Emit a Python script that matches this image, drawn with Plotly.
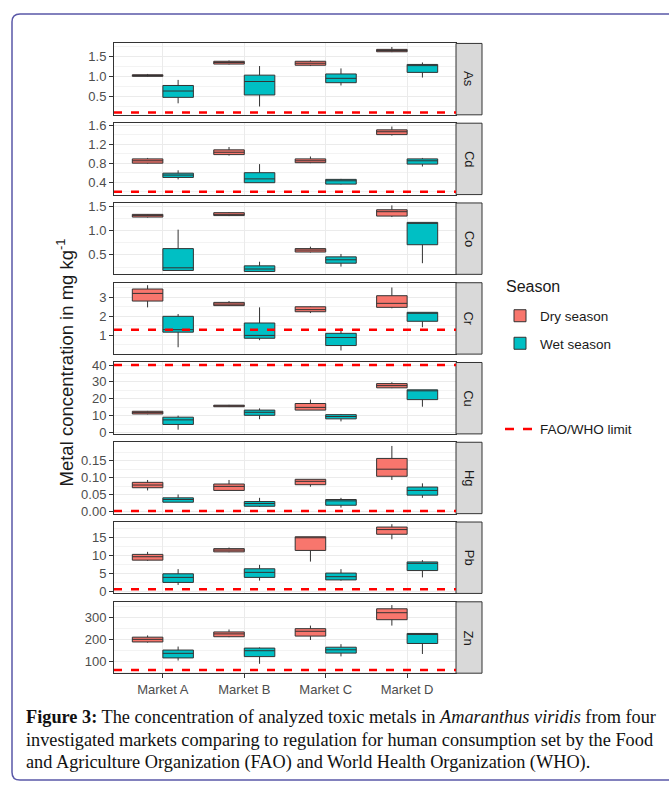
import plotly.graph_objects as go

W, H = 669, 789

markets = ["Market A", "Market B", "Market C", "Market D"]
metals = ["As", "Cd", "Co", "Cr", "Cu", "Hg", "Pb", "Zn"]

# five-number summaries per market: [lower whisker, q1, median, q3, upper whisker]
As_dry = [[1.00, 1.01, 1.03, 1.05, 1.07], [1.31, 1.32, 1.36, 1.39, 1.41], [1.27, 1.29, 1.34, 1.39, 1.41], [1.62, 1.63, 1.66, 1.69, 1.75]]
As_wet = [[0.33, 0.48, 0.64, 0.78, 0.92], [0.25, 0.54, 0.88, 1.04, 1.27], [0.78, 0.85, 0.96, 1.07, 1.21], [0.98, 1.11, 1.28, 1.31, 1.36]]
Cd_dry = [[0.79, 0.80, 0.85, 0.89, 0.91], [0.96, 0.98, 1.03, 1.08, 1.14], [0.80, 0.81, 0.85, 0.89, 0.94], [1.38, 1.40, 1.46, 1.50, 1.57]]
Cd_wet = [[0.46, 0.50, 0.55, 0.59, 0.65], [0.39, 0.39, 0.47, 0.60, 0.78], [0.35, 0.36, 0.43, 0.46, 0.47], [0.73, 0.78, 0.85, 0.89, 0.91]]
Co_dry = [[1.27, 1.28, 1.31, 1.335, 1.34], [1.30, 1.31, 1.335, 1.37, 1.38], [0.55, 0.56, 0.60, 0.63, 0.67], [1.28, 1.30, 1.39, 1.43, 1.52]]
Co_wet = [[0.18, 0.18, 0.235, 0.63, 1.02], [0.16, 0.16, 0.21, 0.275, 0.36], [0.26, 0.33, 0.40, 0.46, 0.52], [0.33, 0.71, 1.16, 1.17, 1.17]]
Cr_dry = [[2.47, 2.80, 3.20, 3.43, 3.63], [2.54, 2.56, 2.64, 2.73, 2.80], [2.17, 2.24, 2.35, 2.50, 2.52], [2.42, 2.47, 2.68, 3.08, 3.51]]
Cr_wet = [[0.38, 1.17, 1.30, 2.00, 2.12], [0.75, 0.85, 1.00, 1.65, 2.47], [0.21, 0.47, 0.89, 1.11, 1.37], [1.43, 1.74, 2.17, 2.21, 2.21]]
Cu_dry = [[10.8, 11.0, 11.8, 12.6, 12.8], [15.1, 15.3, 15.8, 16.2, 16.4], [13.3, 13.3, 14.9, 17.2, 19.5], [26.3, 26.5, 27.8, 29.0, 29.8]]
Cu_wet = [[1.7, 4.8, 7.5, 9.1, 10.0], [7.9, 10.2, 12.0, 13.3, 14.3], [6.6, 8.1, 9.5, 10.6, 11.0], [15.3, 19.5, 25.3, 25.3, 25.3]]
Hg_dry = [[0.062, 0.070, 0.078, 0.086, 0.093], [0.062, 0.062, 0.074, 0.081, 0.093], [0.073, 0.079, 0.089, 0.095, 0.095], [0.093, 0.104, 0.125, 0.157, 0.194]]
Hg_wet = [[0.027, 0.027, 0.035, 0.040, 0.050], [0.013, 0.015, 0.023, 0.029, 0.040], [0.011, 0.018, 0.031, 0.035, 0.040], [0.040, 0.048, 0.062, 0.072, 0.083]]
Pb_dry = [[8.6, 8.8, 9.75, 10.4, 11.1], [11.0, 11.1, 11.6, 12.0, 12.3], [8.4, 11.5, 15.1, 15.3, 15.3], [14.6, 16.0, 17.3, 18.0, 18.8]]
Pb_wet = [[1.9, 2.6, 4.0, 5.0, 6.3], [3.1, 4.0, 5.4, 6.4, 7.5], [3.1, 3.3, 4.2, 5.2, 6.3], [4.0, 5.9, 7.9, 8.3, 8.8]]
Zn_dry = [[185, 188, 200, 210, 218], [210, 212, 225, 234, 245], [197, 215, 237, 249, 263], [263, 290, 322, 340, 357]]
Zn_wet = [[103, 115, 136, 151, 167], [88, 121, 148, 160, 163], [122, 137, 152, 164, 178], [133, 181, 225, 227, 227]]

dry_data = [As_dry, Cd_dry, Co_dry, Cr_dry, Cu_dry, Hg_dry, Pb_dry, Zn_dry]
wet_data = [As_wet, Cd_wet, Co_wet, Cr_wet, Cu_wet, Hg_wet, Pb_wet, Zn_wet]

# FAO/WHO limits (None = not shown)
limits = [0.1, 0.2, None, 1.3, 40, 0.001, 0.7, 60]

# tick labels per panel
tick_values = [
    [0.5, 1.0, 1.5],
    [0.4, 0.8, 1.2, 1.6],
    [0.5, 1.0, 1.5],
    [1, 2, 3],
    [0, 10, 20, 30, 40],
    [0.00, 0.05, 0.10, 0.15],
    [0, 5, 10, 15],
    [100, 200, 300],
]
tick_labels = [
    ["0.5", "1.0", "1.5"],
    ["0.4", "0.8", "1.2", "1.6"],
    ["0.5", "1.0", "1.5"],
    ["1", "2", "3"],
    ["0", "10", "20", "30", "40"],
    ["0.00", "0.05", "0.10", "0.15"],
    ["0", "5", "10", "15"],
    ["100", "200", "300"],
]
y_ranges = [[0.04, 1.84], [0.14, 1.64], [0.10, 1.57], [0.02, 3.76],
            [-0.8, 41.5], [-0.007, 0.205], [-0.46, 19.4], [45, 372]]

DRY, WET = "#F8766D", "#00BFC4"
EDGE = "#333333"
GRID = "#ebebeb"
TICKC = "#4d4d4d"
FONT = "Liberation Sans, Arial, sans-serif"

x0_px, x1_px = 114, 456
strip_x1 = 482
panel_top0, pitch, ph = 38, 81, 72.5

fig = go.Figure()
layout = {}
shapes = []
annotations = []

for i, metal in enumerate(metals):
    k = "" if i == 0 else str(i + 1)
    xa, ya = "x" + k, "y" + k
    top = panel_top0 + i * pitch
    bot = top + ph
    for season, grp, data, color in (("Dry season", "dry", dry_data[i], DRY), ("Wet season", "wet", wet_data[i], WET)):
        fig.add_trace(go.Box(
            x=markets,
            lowerfence=[d[0] for d in data],
            q1=[d[1] for d in data],
            median=[d[2] for d in data],
            q3=[d[3] for d in data],
            upperfence=[d[4] for d in data],
            name=season, legendgroup=season, showlegend=(i == 0),
            offsetgroup=grp,
            fillcolor=color, line=dict(color=EDGE, width=1),
            whiskerwidth=0, boxpoints=False, xaxis=xa, yaxis=ya,
            hoverinfo="skip",
        ))
    tv = tick_values[i]
    step = tv[1] - tv[0]
    minor_vals = [tv[0] - step / 2] + [v + step / 2 for v in tv]
    layout["xaxis" + k] = dict(
        domain=[x0_px / W, x1_px / W], anchor=ya, type="category",
        categoryorder="array", categoryarray=markets, range=[-0.6, 3.6],
        showgrid=True, gridcolor=GRID, gridwidth=1,
        showline=True, mirror=True, linecolor=EDGE, linewidth=1,
        ticks="outside" if i == len(metals) - 1 else "", ticklen=4, tickcolor=EDGE,
        showticklabels=(i == len(metals) - 1),
        tickfont=dict(family=FONT, size=13, color=TICKC), zeroline=False,
        **({} if i == 0 else {"matches": "x"}),
    )
    layout["yaxis" + k] = dict(
        domain=[1 - bot / H, 1 - top / H], anchor=xa, range=y_ranges[i],
        tickmode="array", tickvals=tv, ticktext=tick_labels[i],
        ticks="outside", ticklen=4, tickcolor=EDGE,
        tickfont=dict(family=FONT, size=13, color=TICKC),
        showgrid=True, gridcolor=GRID, gridwidth=1,
        minor=dict(tickmode="array", tickvals=minor_vals, showgrid=True, gridcolor="#f3f3f3", gridwidth=0.7, ticks=""),
        showline=True, mirror=True, linecolor=EDGE, linewidth=1, zeroline=False,
    )
    # strip
    shapes.append(dict(type="rect", xref="paper", yref="paper",
                       x0=x1_px / W, x1=strip_x1 / W, y0=1 - bot / H, y1=1 - top / H,
                       fillcolor="#d9d9d9", line=dict(color=EDGE, width=1), layer="above"))
    annotations.append(dict(text=metal, xref="paper", yref="paper",
                            x=(x1_px + strip_x1) / 2 / W, y=1 - (top + bot) / 2 / H,
                            xanchor="center", yanchor="middle",
                            showarrow=False, textangle=90,
                            font=dict(family=FONT, size=13, color="#1a1a1a")))
    if limits[i] is not None:
        shapes.append(dict(type="line", xref=xa + " domain", yref=ya,
                           x0=0, x1=1, y0=limits[i], y1=limits[i],
                           line=dict(color="#FF0000", width=2.5, dash="8px,9px"), layer="above"))

# legend entry for the limit line
fig.add_trace(go.Scatter(x=[None], y=[None], mode="lines", name="FAO/WHO limit",
                         line=dict(color="#FF0000", width=2.5, dash="dash"),
                         legend="legend2", xaxis="x", yaxis="y", hoverinfo="skip"))

# y title
annotations.append(dict(text="Metal concentration in mg kg<sup>-1</sup>", xref="paper", yref="paper",
                        x=66 / W, y=1 - 362 / H, xanchor="center", yanchor="middle",
                        showarrow=False, textangle=-90,
                        font=dict(family=FONT, size=18.5, color="#1a1a1a")))

# legend title
annotations.append(dict(text="Season", xref="paper", yref="paper", x=504 / W, y=1 - 285 / H,
                        xanchor="left", yanchor="middle", showarrow=False,
                        font=dict(family=FONT, size=16, color="#1a1a1a")))

# caption
caption_lines = [
    "<b>Figure 3:</b> The concentration of analyzed toxic metals in <i>Amaranthus viridis</i> from four",
    "investigated markets comparing to regulation for human consumption set by the Food",
    "and Agriculture Organization (FAO) and World Health Organization (WHO).",
]
for j, line in enumerate(caption_lines):
    annotations.append(dict(text=line, xref="paper", yref="paper", x=24 / W, y=1 - (722 + 23 * j) / H,
                            xanchor="left", yanchor="middle", showarrow=False, align="left",
                            font=dict(family="Liberation Serif, Times New Roman, serif", size=18.3, color="#111111")))

# outer frame
r = 8
fl, ft, fb, fr = 12, 8, 786, 700
def px(x): return x / W
def py(y): return 1 - y / H
frame = (f"M {px(fr)},{py(ft)} L {px(fl + r)},{py(ft)} Q {px(fl)},{py(ft)} {px(fl)},{py(ft + r)} "
         f"L {px(fl)},{py(fb - r)} Q {px(fl)},{py(fb)} {px(fl + r)},{py(fb)} L {px(fr)},{py(fb)}")
shapes.append(dict(type="path", path=frame, xref="paper", yref="paper",
                   line=dict(color="#5a58a8", width=1.5)))

fig.update_layout(
    width=W, height=H, margin=dict(l=0, r=0, t=0, b=0),
    paper_bgcolor="white", plot_bgcolor="white",
    boxmode="group", boxgap=0.25, boxgroupgap=0,
    showlegend=True,
    legend=dict(x=500 / W, y=1 - 299 / H, xanchor="left", yanchor="top",
                font=dict(family=FONT, size=13.5, color="#1a1a1a"),
                traceorder="grouped", tracegroupgap=7, bgcolor="rgba(0,0,0,0)"),
    legend2=dict(x=500 / W, y=1 - 414 / H, xanchor="left", yanchor="top",
                 font=dict(family=FONT, size=13.5, color="#1a1a1a"), bgcolor="rgba(0,0,0,0)"),
    shapes=shapes, annotations=annotations,
    **layout,
)

fig.write_html("out.html", config={"displayModeBar": False},
               post_script="document.body.style.margin='0px';")
